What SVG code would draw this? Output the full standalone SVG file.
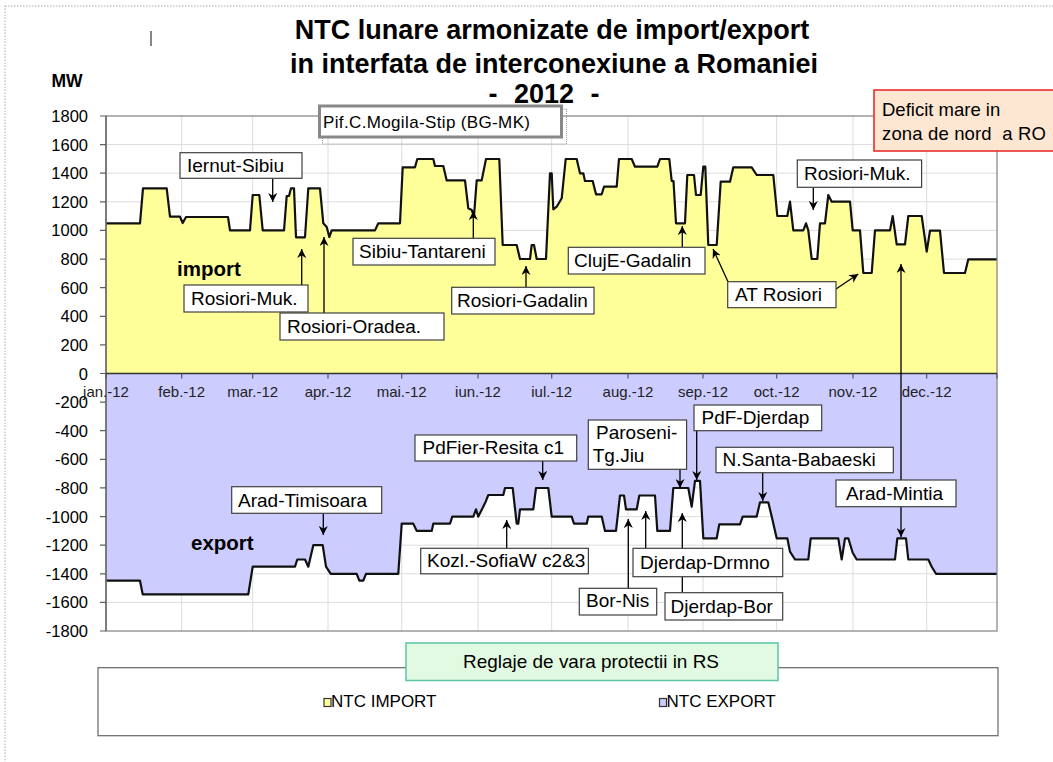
<svg xmlns="http://www.w3.org/2000/svg" width="1053" height="762" viewBox="0 0 1053 762">
<defs>
<marker id="ah" viewBox="0 0 10 10" refX="10" refY="5" markerWidth="9" markerHeight="9" markerUnits="userSpaceOnUse" orient="auto">
<path d="M0,0 L10,5 L0,10 L3,5 z" fill="#000"/>
</marker>
<style>
text{font-family:"Liberation Sans",Arial,sans-serif;fill:#000}
.ttl{font-size:27px;font-weight:bold;text-anchor:middle}
.yl{font-size:16.5px;text-anchor:end}
.ml{font-size:15px;text-anchor:middle;fill:#222}
.lb{font-size:19px}
.box{fill:#fff;stroke:#404040;stroke-width:1.2}
.grid{stroke:#dcdcdc;stroke-width:1;fill:none}
.conn line{stroke:#000;stroke-width:1.3;marker-end:url(#ah)}
.curve{fill:none;stroke:#111;stroke-width:2.2;stroke-linejoin:round}
</style>
</defs>
<rect x="0" y="0" width="1053" height="762" fill="#fff"/>
<rect x="5" y="6" width="1070" height="780" fill="none" stroke="#aaa" stroke-width="1" stroke-dasharray="1.5,1.5"/>
<line x1="151" y1="31" x2="151" y2="46" stroke="#333" stroke-width="1.2"/>

<g id="title">
<text class="ttl" x="552" y="39">NTC lunare armonizate de import/export</text>
<text class="ttl" x="554" y="72.5">in interfata de interconexiune a Romaniei</text>
<text class="ttl" x="544" y="103" style="word-spacing:9px">- 2012 -</text>
</g>
<text x="67" y="87" style="font-size:17.5px;font-weight:bold;text-anchor:middle">MW</text>

<g id="grid">
<path class="grid" d="M106,144.6H997M106,173.2H997M106,201.8H997M106,230.4H997M106,259.1H997M106,287.7H997M106,316.3H997M106,344.9H997M106,402.1H997M106,430.7H997M106,459.3H997M106,487.9H997M106,516.6H997M106,545.2H997M106,573.8H997M106,602.4H997"/>
<path class="grid" d="M181.7,116V631M252.7,116V631M328,116V631M401.7,116V631M478,116V631M551.7,116V631M628,116V631M703,116V631M776.7,116V631M853,116V631M926.7,116V631"/>
</g>

<g id="import-area">
<polygon fill="#ffff99" points="106,373.5 106,223.3 140,223.3 143,188.3 166.7,188.3 170,216.7 180,216.7 182.7,223 186,217 228,217 230,230.4 250,230.4 252.7,195 259.3,195 262.7,230.4 284,230.4 286.7,196 289,196 291,188.3 294,188.3 296,237.3 305,237.3 308.3,188.3 320,188.3 323.3,223.3 326.7,227 329.3,237 331.7,230.4 375,230.4 378.3,223.3 400,223.3 402.7,167.3 415,167.3 417.3,159 433.3,159 435,166 443.3,166 446.7,180.4 465,180.4 468.3,208.3 471.7,210 474,216 476.7,180.4 481.7,180.4 486,159 499.3,159 502.7,245 516.7,245 520,259 530,259 531.7,245 534,245 536.7,259 546,259 550,173.3 551.7,173.3 553.3,209.3 556.7,206.7 561.7,198.3 565.7,159 576.7,159 580,173.3 583.3,173.3 585,181 592.7,181 596,194.3 601.7,194.3 604,186.7 616.7,186.7 619,159 631.7,159 635,166.7 657.3,166.7 660,159 669.3,159 671.7,181 673.5,181 676,223.3 685,223.3 687.3,175 694,175 696,195 700.7,195 703.3,166.7 705.3,166.7 708.3,245 716.7,245 720.7,181.7 730,181.7 733.3,167.3 751.7,167.3 756.7,175 773.3,175 777.3,216 787.3,216 790,201.7 793.3,230.4 803.3,230.4 806,223.3 808.3,230.4 811.7,259 817.3,259 820,223.3 825,223.3 828.3,195 831.7,201.7 850,201.7 852.7,230.4 860,230.4 863.3,273 871.7,273 875,230.4 890,230.4 892.7,216 896.7,244.3 905,244.3 908.3,216 921.7,216 926.7,251.7 930,230.7 940,230.7 944,273 965,273 968.3,259.3 997,259.3 997,373.5"/>
<polyline class="curve" points="106,223.3 140,223.3 143,188.3 166.7,188.3 170,216.7 180,216.7 182.7,223 186,217 228,217 230,230.4 250,230.4 252.7,195 259.3,195 262.7,230.4 284,230.4 286.7,196 289,196 291,188.3 294,188.3 296,237.3 305,237.3 308.3,188.3 320,188.3 323.3,223.3 326.7,227 329.3,237 331.7,230.4 375,230.4 378.3,223.3 400,223.3 402.7,167.3 415,167.3 417.3,159 433.3,159 435,166 443.3,166 446.7,180.4 465,180.4 468.3,208.3 471.7,210 474,216 476.7,180.4 481.7,180.4 486,159 499.3,159 502.7,245 516.7,245 520,259 530,259 531.7,245 534,245 536.7,259 546,259 550,173.3 551.7,173.3 553.3,209.3 556.7,206.7 561.7,198.3 565.7,159 576.7,159 580,173.3 583.3,173.3 585,181 592.7,181 596,194.3 601.7,194.3 604,186.7 616.7,186.7 619,159 631.7,159 635,166.7 657.3,166.7 660,159 669.3,159 671.7,181 673.5,181 676,223.3 685,223.3 687.3,175 694,175 696,195 700.7,195 703.3,166.7 705.3,166.7 708.3,245 716.7,245 720.7,181.7 730,181.7 733.3,167.3 751.7,167.3 756.7,175 773.3,175 777.3,216 787.3,216 790,201.7 793.3,230.4 803.3,230.4 806,223.3 808.3,230.4 811.7,259 817.3,259 820,223.3 825,223.3 828.3,195 831.7,201.7 850,201.7 852.7,230.4 860,230.4 863.3,273 871.7,273 875,230.4 890,230.4 892.7,216 896.7,244.3 905,244.3 908.3,216 921.7,216 926.7,251.7 930,230.7 940,230.7 944,273 965,273 968.3,259.3 997,259.3"/>
</g>

<g id="export-area">
<polygon fill="#ccccff" points="106,373.5 106,580.7 140,580.7 142.7,594.3 248.3,594.3 252.7,566.7 295,566.7 297.3,559.5 305,559.5 308.3,566.7 313.3,545.2 322.7,545.2 326,566.7 329.3,571.7 330.7,573.8 356.7,573.8 359.3,580.7 363.3,580.7 366,573.8 398.3,573.8 401.7,523.7 413.3,523.7 416.7,530.9 431.7,530.9 433.3,523.7 450,523.7 452.3,516.6 473.3,516.6 476,509.4 478.3,516.6 485.7,501.7 488.3,495 503.3,495 505,488 512.7,488 516.7,523.7 518.3,523.7 520,509.4 533.3,509.4 536,488 548.3,488 551.7,516.6 571.7,516.6 574,523.7 586.7,523.7 588.3,516.6 601.7,516.6 605,530.9 616,530.9 620,495.5 624,495.5 626,509.4 636.7,509.4 639.3,495.5 655,495.5 657.3,530.9 670,530.9 673.3,488 688.3,488 691.7,506.7 695,480.8 700,480.8 703.3,538.3 716.7,538.3 719.3,524.3 740,524.3 742.7,516.6 756.7,516.6 760,502.3 768.3,502.3 771.7,516.6 776.7,538.3 787.3,538.3 790,551.7 795,559.5 808.3,559.5 810.7,538.3 838.3,538.3 841.7,559.5 845,538.3 848.3,538.3 852.7,552.7 856.7,559.5 895,559.5 897.3,538.3 906,538.3 908.3,559.5 928.3,559.5 931.7,566.7 936,573.8 997,573.8 997,373.5"/>
<polyline class="curve" points="106,580.7 140,580.7 142.7,594.3 248.3,594.3 252.7,566.7 295,566.7 297.3,559.5 305,559.5 308.3,566.7 313.3,545.2 322.7,545.2 326,566.7 329.3,571.7 330.7,573.8 356.7,573.8 359.3,580.7 363.3,580.7 366,573.8 398.3,573.8 401.7,523.7 413.3,523.7 416.7,530.9 431.7,530.9 433.3,523.7 450,523.7 452.3,516.6 473.3,516.6 476,509.4 478.3,516.6 485.7,501.7 488.3,495 503.3,495 505,488 512.7,488 516.7,523.7 518.3,523.7 520,509.4 533.3,509.4 536,488 548.3,488 551.7,516.6 571.7,516.6 574,523.7 586.7,523.7 588.3,516.6 601.7,516.6 605,530.9 616,530.9 620,495.5 624,495.5 626,509.4 636.7,509.4 639.3,495.5 655,495.5 657.3,530.9 670,530.9 673.3,488 688.3,488 691.7,506.7 695,480.8 700,480.8 703.3,538.3 716.7,538.3 719.3,524.3 740,524.3 742.7,516.6 756.7,516.6 760,502.3 768.3,502.3 771.7,516.6 776.7,538.3 787.3,538.3 790,551.7 795,559.5 808.3,559.5 810.7,538.3 838.3,538.3 841.7,559.5 845,538.3 848.3,538.3 852.7,552.7 856.7,559.5 895,559.5 897.3,538.3 906,538.3 908.3,559.5 928.3,559.5 931.7,566.7 936,573.8 997,573.8"/>
</g>

<g id="axes">
<rect x="106" y="116" width="891" height="515" fill="none" stroke="#808080" stroke-width="1.2"/>
<line x1="106" y1="116" x2="106" y2="631" stroke="#606060" stroke-width="1.3"/>
<line x1="106" y1="373.5" x2="997" y2="373.5" stroke="#333" stroke-width="1.5"/>
<path stroke="#606060" stroke-width="1.2" d="M100,116H106M100,144.6H106M100,173.2H106M100,201.8H106M100,230.4H106M100,259.1H106M100,287.7H106M100,316.3H106M100,344.9H106M100,373.5H106M100,402.1H106M100,430.7H106M100,459.3H106M100,487.9H106M100,516.6H106M100,545.2H106M100,573.8H106M100,602.4H106M100,631H106"/>
<path stroke="#555" stroke-width="1.2" d="M106,373.5V378.5M181.7,373.5V378.5M252.7,373.5V378.5M328,373.5V378.5M401.7,373.5V378.5M478,373.5V378.5M551.7,373.5V378.5M628,373.5V378.5M703,373.5V378.5M776.7,373.5V378.5M853,373.5V378.5M926.7,373.5V378.5M997,373.5V378.5"/>
<text class="yl" x="88" y="122">1800</text>
<text class="yl" x="88" y="150.6">1600</text>
<text class="yl" x="88" y="179.2">1400</text>
<text class="yl" x="88" y="207.8">1200</text>
<text class="yl" x="88" y="236.4">1000</text>
<text class="yl" x="88" y="265.1">800</text>
<text class="yl" x="88" y="293.7">600</text>
<text class="yl" x="88" y="322.3">400</text>
<text class="yl" x="88" y="350.9">200</text>
<text class="yl" x="88" y="379.5">0</text>
<text class="yl" x="88" y="408.1">-200</text>
<text class="yl" x="88" y="436.7">-400</text>
<text class="yl" x="88" y="465.3">-600</text>
<text class="yl" x="88" y="493.9">-800</text>
<text class="yl" x="88" y="522.6">-1000</text>
<text class="yl" x="88" y="551.2">-1200</text>
<text class="yl" x="88" y="579.8">-1400</text>
<text class="yl" x="88" y="608.4">-1600</text>
<text class="yl" x="88" y="637">-1800</text>
<text class="ml" x="106" y="396.5">jan.-12</text>
<text class="ml" x="181.7" y="396.5">feb.-12</text>
<text class="ml" x="252.7" y="396.5">mar.-12</text>
<text class="ml" x="328" y="396.5">apr.-12</text>
<text class="ml" x="401.7" y="396.5">mai.-12</text>
<text class="ml" x="478" y="396.5">iun.-12</text>
<text class="ml" x="551.7" y="396.5">iul.-12</text>
<text class="ml" x="628" y="396.5">aug.-12</text>
<text class="ml" x="703" y="396.5">sep.-12</text>
<text class="ml" x="776.7" y="396.5">oct.-12</text>
<text class="ml" x="853" y="396.5">nov.-12</text>
<text class="ml" x="926.7" y="396.5">dec.-12</text>
</g>

<text x="177" y="276" style="font-size:20.5px;font-weight:bold">import</text>
<text x="191" y="550" style="font-size:20.5px;font-weight:bold">export</text>

<g id="connectors" class="conn">
<line x1="272.7" y1="179" x2="272.7" y2="202"/>
<line x1="301.7" y1="285" x2="301.7" y2="249"/>
<line x1="324" y1="313" x2="324" y2="237"/>
<line x1="473.3" y1="238" x2="473.3" y2="211"/>
<line x1="526" y1="287" x2="526" y2="266"/>
<line x1="682.3" y1="247" x2="682.3" y2="226"/>
<line x1="728" y1="281.7" x2="713" y2="249"/>
<line x1="836" y1="289" x2="858.3" y2="274"/>
<line x1="813.3" y1="187.3" x2="813.3" y2="210"/>
<line x1="901" y1="480" x2="901" y2="264"/>
<line x1="323.3" y1="513.3" x2="323.3" y2="535"/>
<line x1="542.7" y1="461" x2="542.7" y2="480"/>
<line x1="506.7" y1="548.3" x2="506.7" y2="520"/>
<line x1="680" y1="469.3" x2="680" y2="488"/>
<line x1="696.7" y1="430.7" x2="696.7" y2="480"/>
<line x1="762.7" y1="472.7" x2="762.7" y2="501"/>
<line x1="645.7" y1="548.3" x2="645.7" y2="511"/>
<line x1="628.3" y1="588.3" x2="628.3" y2="519"/>
<line x1="682.3" y1="592.7" x2="682.3" y2="513"/>
<line x1="901" y1="506.7" x2="901" y2="537"/>
</g>

<g id="pif-box">
<rect x="322.5" y="109" width="244" height="35" fill="none" stroke="#999" stroke-width="1" stroke-dasharray="1,1"/>
<rect x="319.5" y="106" width="242" height="31" fill="#fff" stroke="#888" stroke-width="3"/>
<text x="323" y="128.3" style="font-size:17px" textLength="207">Pif.C.Mogila-Stip (BG-MK)</text>
</g>

<g id="deficit-box">
<rect x="874" y="90" width="190" height="61" fill="#fde6d2" stroke="#e82020" stroke-width="1.5"/>
<text x="882" y="116" style="font-size:18.5px">Deficit mare in</text>
<text x="882" y="139.5" style="font-size:18.5px" xml:space="preserve" textLength="164">zona de nord  a RO</text>
</g>

<g id="n-iernut-sibiu"><rect class="box" x="180" y="152.7" width="122" height="25.6"/><text class="lb" x="187" y="171.5">Iernut-Sibiu</text></g>
<g id="n-rosiori-muk-1"><rect class="box" x="184" y="285" width="124" height="27"/><text class="lb" x="191" y="305">Rosiori-Muk.</text></g>
<g id="n-rosiori-oradea"><rect class="box" x="280" y="313" width="164" height="27"/><text class="lb" x="287" y="333">Rosiori-Oradea.</text></g>
<g id="n-sibiu-tantareni"><rect class="box" x="353" y="238.3" width="142" height="26.7"/><text class="lb" x="359" y="257.5">Sibiu-Tantareni</text></g>
<g id="n-rosiori-gadalin"><rect class="box" x="451.7" y="287.3" width="142.3" height="26.7"/><text class="lb" x="457" y="306.7">Rosiori-Gadalin</text></g>
<g id="n-cluje-gadalin"><rect class="box" x="568.3" y="247.3" width="136.7" height="26.7"/><text class="lb" x="574" y="266.7">ClujE-Gadalin</text></g>
<g id="n-at-rosiori"><rect class="box" x="727.7" y="281.7" width="108.3" height="26"/><text class="lb" x="735" y="300.7">AT Rosiori</text></g>
<g id="n-rosiori-muk-2"><rect class="box" x="797.3" y="160" width="124.3" height="27.3"/><text class="lb" x="804" y="180">Rosiori-Muk.</text></g>

<g id="n-arad-timisoara"><rect class="box" x="231.7" y="486.7" width="150" height="26.6"/><text class="lb" x="238" y="506.5">Arad-Timisoara</text></g>
<g id="n-pdfier-resita"><rect class="box" x="415" y="435" width="161.7" height="26"/><text class="lb" x="422.5" y="453.5">PdFier-Resita c1</text></g>
<g id="n-kozl-sofiaw"><rect class="box" x="420.7" y="548.3" width="167.7" height="25.5"/><text class="lb" x="427" y="566.5">Kozl.-SofiaW c2&amp;3</text></g>
<g id="n-paroseni"><rect class="box" x="588.3" y="420" width="98.3" height="49.3"/><text class="lb" x="596" y="438.5">Paroseni-</text><text class="lb" x="592.7" y="461.7">Tg.Jiu</text></g>
<g id="n-pdf-djerdap"><rect class="box" x="694" y="405" width="127.7" height="25.7"/><text class="lb" x="701.5" y="423.5">PdF-Djerdap</text></g>
<g id="n-nsanta-babaeski"><rect class="box" x="716" y="447.3" width="177.3" height="25.4"/><text class="lb" x="722.5" y="466">N.Santa-Babaeski</text></g>
<g id="n-djerdap-drmno"><rect class="box" x="633" y="548.3" width="149.7" height="28.4"/><text class="lb" x="640" y="569.3">Djerdap-Drmno</text></g>
<g id="n-bor-nis"><rect class="box" x="579.3" y="588.3" width="77.4" height="26.7"/><text class="lb" x="586" y="606.5">Bor-Nis</text></g>
<g id="n-djerdap-bor"><rect class="box" x="665" y="592.7" width="117.7" height="27.3"/><text class="lb" x="670.5" y="612.7">Djerdap-Bor</text></g>
<g id="n-arad-mintia"><rect class="box" x="836" y="480" width="120" height="26.7"/><text class="lb" x="846" y="499.5">Arad-Mintia</text></g>

<g id="legend">
<rect x="98" y="667.7" width="900" height="68" fill="#fff" stroke="#666" stroke-width="1.2"/>
<rect x="324" y="698.5" width="7" height="8" fill="#ffff99" stroke="#333" stroke-width="1.2"/>
<text x="331" y="707" style="font-size:17px">NTC IMPORT</text>
<rect x="659.5" y="698.5" width="7" height="8" fill="#ccccff" stroke="#333" stroke-width="1.2"/>
<text x="666.5" y="707" style="font-size:17px">NTC EXPORT</text>
</g>
<g id="note-reglaje">
<rect x="406" y="643" width="372" height="37.5" fill="#e2fae2" stroke="#5cc6a6" stroke-width="1.5"/>
<text x="463" y="668.3" style="font-size:18.5px" textLength="256" lengthAdjust="spacingAndGlyphs">Reglaje de vara protectii in RS</text>
</g>
</svg>
